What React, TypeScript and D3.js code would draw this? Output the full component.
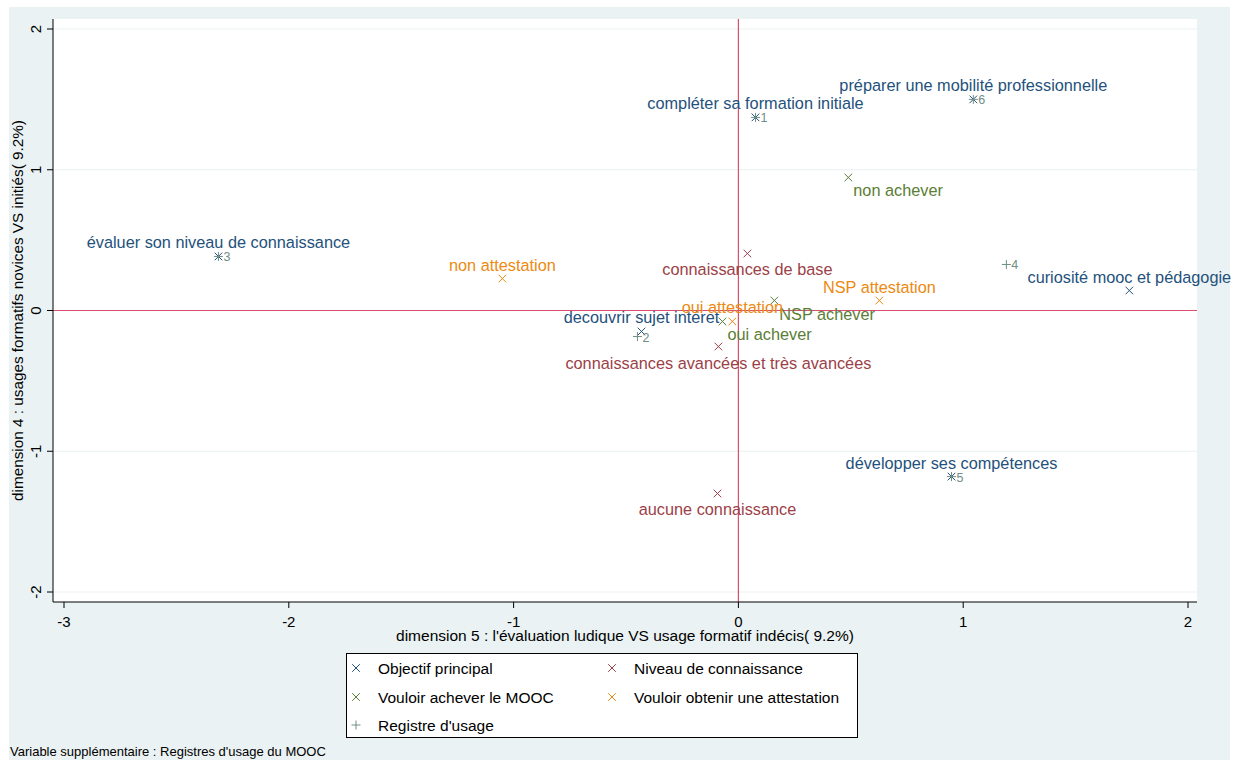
import React from "react";
import * as d3 from "d3";

// ---- Data ----
type Pt = { label: string; x: number; y: number; pos: "above" | "below" | "right" | "belowright" };

const objectifPrincipal: Pt[] = [
  { label: "compléter sa formation initiale", x: 0.076, y: 1.372, pos: "above" },
  { label: "préparer une mobilité professionnelle", x: 1.045, y: 1.5, pos: "above" },
  { label: "évaluer son niveau de connaissance", x: -2.313, y: 0.384, pos: "above" },
  { label: "curiosité mooc et pédagogie", x: 1.739, y: 0.142, pos: "above" },
  { label: "développer ses compétences", x: 0.948, y: -1.18, pos: "above" },
  { label: "decouvrir sujet intéret", x: -0.431, y: -0.149, pos: "above" },
];

const niveauConnaissance: Pt[] = [
  { label: "connaissances de base", x: 0.04, y: 0.405, pos: "below" },
  { label: "connaissances avancées et très avancées", x: -0.089, y: -0.256, pos: "below" },
  { label: "aucune connaissance", x: -0.093, y: -1.3, pos: "below" },
];

const vouloirAchever: Pt[] = [
  { label: "non achever", x: 0.489, y: 0.945, pos: "belowright" },
  { label: "NSP achever", x: 0.16, y: 0.071, pos: "belowright" },
  { label: "oui achever", x: -0.071, y: -0.078, pos: "belowright" },
];

const vouloirAttestation: Pt[] = [
  { label: "non attestation", x: -1.05, y: 0.227, pos: "above" },
  { label: "NSP attestation", x: 0.627, y: 0.071, pos: "above" },
  { label: "oui attestation", x: -0.027, y: -0.078, pos: "above" },
];

const registreUsage: Pt[] = [
  { label: "1", x: 0.076, y: 1.372, pos: "right" },
  { label: "2", x: -0.449, y: -0.185, pos: "right" },
  { label: "3", x: -2.313, y: 0.384, pos: "right" },
  { label: "4", x: 1.192, y: 0.327, pos: "right" },
  { label: "5", x: 0.948, y: -1.18, pos: "right" },
  { label: "6", x: 1.045, y: 1.5, pos: "right" },
];

const xTicks = [-3, -2, -1, 0, 1, 2];
const yTicks = [-2, -1, 0, 1, 2];

const xTitle = "dimension 5 : l'évaluation ludique VS usage formatif indécis( 9.2%)";
const yTitle = "dimension 4 : usages formatifs novices VS initiés( 9.2%)";
const note = "Variable supplémentaire : Registres d'usage du MOOC";

const series = [
  { name: "Objectif principal", data: objectifPrincipal, color: "#24517c", marker: "x" },
  { name: "Niveau de connaissance", data: niveauConnaissance, color: "#9c3f47", marker: "x" },
  { name: "Vouloir achever le MOOC", data: vouloirAchever, color: "#5a7d35", marker: "x" },
  { name: "Vouloir obtenir une attestation", data: vouloirAttestation, color: "#ec8a12", marker: "x" },
  { name: "Registre d'usage", data: registreUsage, color: "#6e8e84", marker: "+" },
];

const FONT = "'Liberation Sans', Arial, sans-serif";

const X_PATH = "M-3.8,-3.8L3.8,3.8M-3.8,3.8L3.8,-3.8";
const PLUS_PATH = "M-4.5,0H4.5M0,-4.5V4.5";

const LBL = 16.3;

export default function App() {
  const W = 1239, H = 760;
  const plot = { left: 53, right: 1197, top: 19, bottom: 602 };
  const x = d3.scaleLinear().domain([-3, 2]).range([64, 1188]);
  const y = d3.scaleLinear().domain([-2, 2]).range([592, 29]);

  const labelEl = (p: Pt, color: string, key: string) => {
    const cx = x(p.x), cy = y(p.y);
    if (p.pos === "above")
      return <text key={key} x={cx} y={cy - 8} textAnchor="middle" fill={color} fontSize={LBL}>{p.label}</text>;
    if (p.pos === "below")
      return <text key={key} x={cx} y={cy + 22} textAnchor="middle" fill={color} fontSize={LBL}>{p.label}</text>;
    if (p.pos === "belowright")
      return <text key={key} x={cx + 5} y={cy + 19} textAnchor="start" fill={color} fontSize={LBL}>{p.label}</text>;
    return <text key={key} x={cx + 5} y={cy + 5} textAnchor="start" fill={color} fontSize={12.5}>{p.label}</text>;
  };

  const legendItems = [
    { s: series[0], lx: 356, ly: 668 },
    { s: series[1], lx: 612, ly: 668 },
    { s: series[2], lx: 356, ly: 697 },
    { s: series[3], lx: 612, ly: 697 },
    { s: series[4], lx: 356, ly: 725 },
  ];

  return (
    <svg width={W} height={H} style={{ position: "absolute", left: 0, top: 0 }} fontFamily={FONT}>
      <rect x={0} y={0} width={W} height={H} fill="#ffffff" />
      <rect x={9} y={7} width={1221} height={753} fill="#eaf2f3" />
      <rect x={plot.left} y={plot.top} width={plot.right - plot.left} height={plot.bottom - plot.top} fill="#ffffff" />
      {/* gridlines */}
      {yTicks.map((t) => (
        <line key={"g" + t} x1={plot.left} x2={plot.right} y1={y(t)} y2={y(t)} stroke="#eaf2f3" strokeWidth={1} />
      ))}
      {/* reference lines */}
      <line x1={x(0)} x2={x(0)} y1={plot.top} y2={plot.bottom} stroke="#d9506f" strokeWidth={1.2} />
      <line x1={plot.left} x2={plot.right} y1={y(0)} y2={y(0)} stroke="#d9506f" strokeWidth={1.2} />
      {/* axes */}
      <line x1={plot.left} x2={plot.left} y1={plot.top} y2={plot.bottom} stroke="#000" strokeWidth={1} />
      <line x1={plot.left} x2={plot.right} y1={plot.bottom} y2={plot.bottom} stroke="#000" strokeWidth={1} />
      {xTicks.map((t) => (
        <g key={"xt" + t}>
          <line x1={x(t)} x2={x(t)} y1={plot.bottom} y2={plot.bottom + 6} stroke="#000" />
          <text x={x(t)} y={plot.bottom + 25} textAnchor="middle" fontSize={15} fill="#000">{t}</text>
        </g>
      ))}
      {yTicks.map((t) => (
        <g key={"yt" + t}>
          <line x1={plot.left - 6} x2={plot.left} y1={y(t)} y2={y(t)} stroke="#000" />
          <text transform={`translate(${plot.left - 12},${y(t)}) rotate(-90)`} textAnchor="middle" fontSize={15} fill="#000">{t}</text>
        </g>
      ))}
      <text x={(plot.left + plot.right) / 2} y={641} textAnchor="middle" fontSize={15.5} fill="#000">{xTitle}</text>
      <text transform={`translate(23,${(plot.top + plot.bottom) / 2}) rotate(-90)`} textAnchor="middle" fontSize={15.3} fill="#000">{yTitle}</text>

      {/* markers */}
      {series.map((s) =>
        s.data.map((p, i) => (
          <path key={s.name + "m" + i} d={s.marker === "x" ? X_PATH : PLUS_PATH}
            transform={`translate(${x(p.x)},${y(p.y)})`} stroke={s.color} strokeWidth={1} fill="none" />
        ))
      )}
      {/* labels */}
      {series.map((s) => s.data.map((p, i) => labelEl(p, s.color, s.name + "l" + i)))}

      {/* legend */}
      <rect x={346.5} y={653.5} width={511} height={84} fill="#ffffff" stroke="#000" strokeWidth={1} />
      {legendItems.map(({ s, lx, ly }) => (
        <g key={"lg" + s.name}>
          <path d={s.marker === "x" ? X_PATH : PLUS_PATH} transform={`translate(${lx},${ly})`} stroke={s.color} strokeWidth={1} fill="none" />
          <text x={lx + 22} y={ly + 5.5} fontSize={15.5} fill="#000">{s.name}</text>
        </g>
      ))}
      <text x={10} y={756} fontSize={13} fill="#000">{note}</text>
    </svg>
  );
}
